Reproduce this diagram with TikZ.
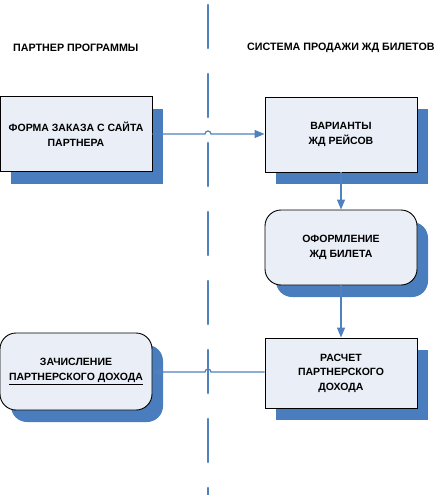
\documentclass[tikz,border=0pt]{standalone}
\usepackage{fontspec}
\setmainfont{Liberation Sans}
\usepackage{tikz}
\usetikzlibrary{arrows.meta, shadows}
\definecolor{boxfill}{HTML}{E9EEF7}
\definecolor{shadowblue}{HTML}{4A7DBE}
\definecolor{linkblue}{HTML}{4F81BD}
\tikzset{
  box/.style={draw=black, line width=0.9pt, fill=boxfill, minimum width=152pt,
    align=center, inner sep=2pt, font=\bfseries\fontsize{10.5}{14.5}\selectfont,
    drop shadow={shadow xshift=11pt, shadow yshift=-12pt, fill=shadowblue, opacity=1}},
  roundbox/.style={box, rounded corners=16pt},
  conn/.style={draw=linkblue, line width=1.2pt, -{Triangle[length=10pt,width=8pt]}},
  divider/.style={draw=linkblue, line width=2.6pt, line cap=round,
    dash pattern=on 43pt off 26pt, dash phase=-2pt},
  head/.style={font=\bfseries\fontsize{10.7}{12}\selectfont, anchor=west, inner sep=0pt}
}
\begin{document}
\begin{tikzpicture}[x=1pt, y=-1pt]
  \useasboundingbox (0,0) rectangle (435,495);
  % swim lane divider
  \draw[divider] (208,3) -- (208,495);
  \node[head] (partner) at (13,48) {ПАРТНЕР ПРОГРАММЫ};
  \node[head] (system) at (247,48) {СИСТЕМА ПРОДАЖИ ЖД БИЛЕТОВ};
  % boxes
  \node[box, minimum height=75pt] (forma) at (76,134) {ФОРМА ЗАКАЗА С САЙТА\\ПАРТНЕРА};
  \node[box, minimum height=75pt] (varianty) at (341,134.5) {ВАРИАНТЫ\\ЖД РЕЙСОВ};
  \node[roundbox, minimum height=75pt] (bilet) at (341,247.5) {ОФОРМЛЕНИЕ\\ЖД БИЛЕТА};
  \node[box, minimum height=70pt] (raschet) at (341,373) {РАСЧЕТ\\ПАРТНЕРСКОГО\\ДОХОДА};
  \node[roundbox, minimum height=77pt] (dohod) at (76,371.5) {ЗАЧИСЛЕНИЕ\\\underline{ПАРТНЕРСКОГО ДОХОДА}};
  % connectors, hopping over the divider
  \coordinate (hopA) at (205,134);
  \coordinate (hopB) at (211,372);
  \draw[conn] (forma.east |- hopA) -- (hopA) arc(180:360:3) -- (varianty.west |- hopA);
  \draw[conn] (varianty) -- (bilet);
  \draw[conn] (bilet) -- (raschet);
  \draw[conn] (raschet.west |- hopB) -- (hopB) arc(0:-180:3) -- (dohod.east |- hopB);
\end{tikzpicture}
\end{document}
